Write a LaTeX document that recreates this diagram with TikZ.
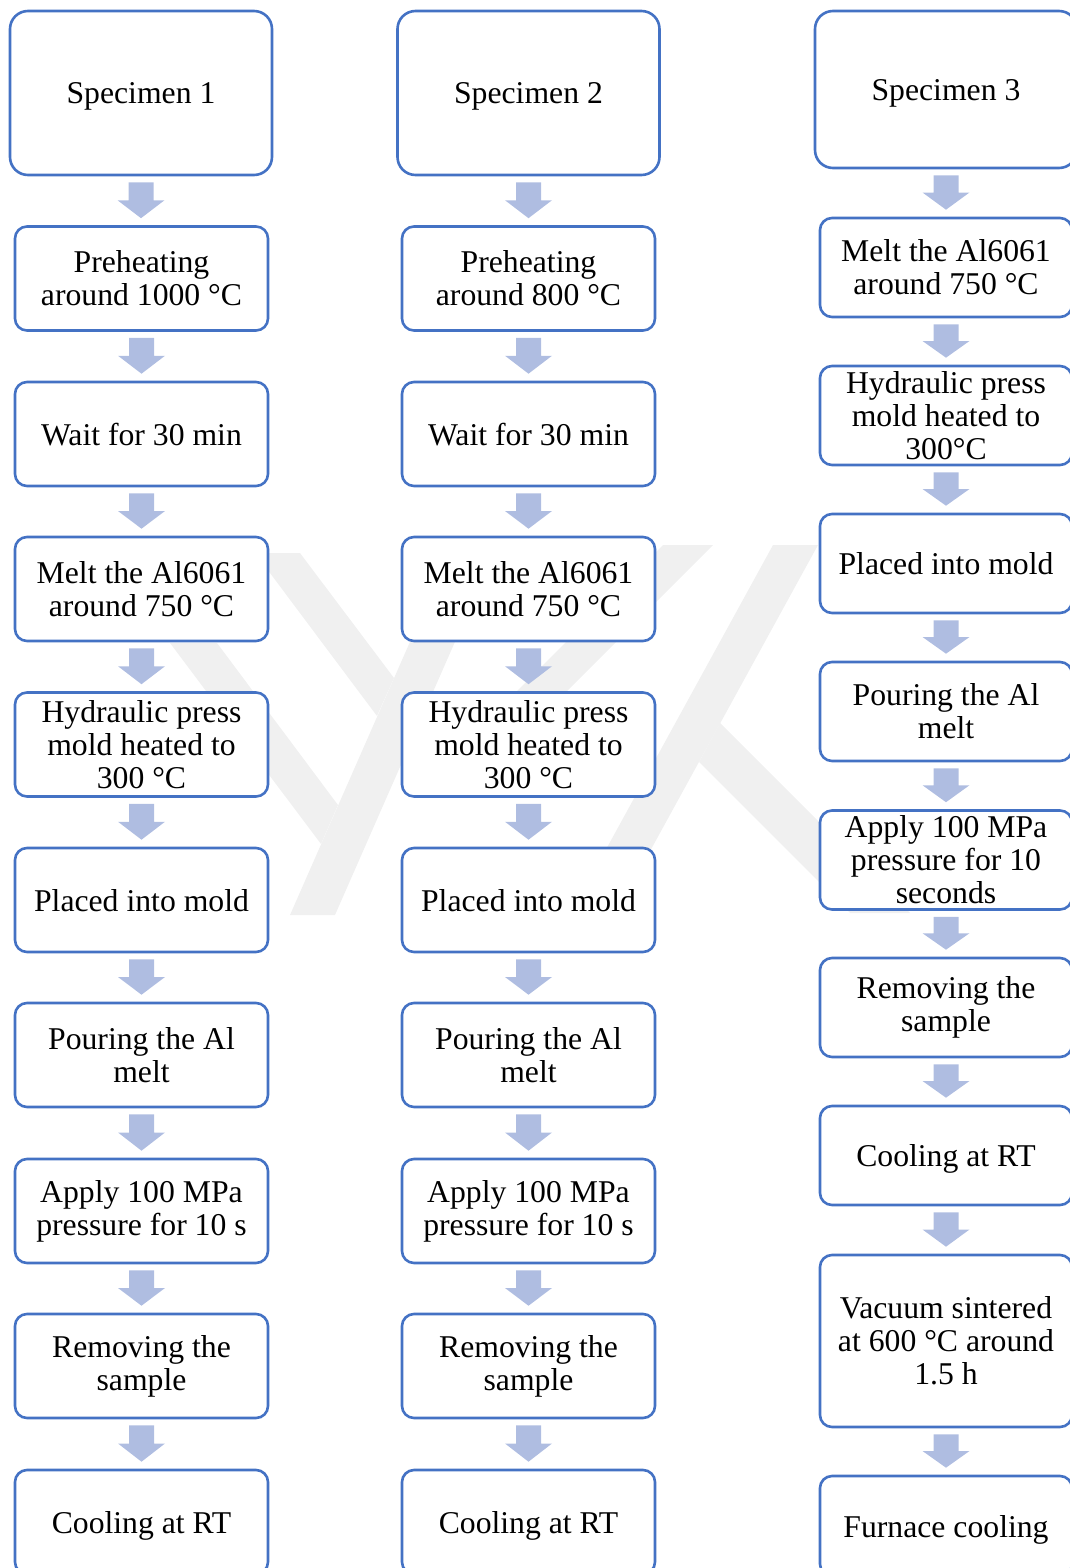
\documentclass[tikz,border=0pt]{standalone}
\usepackage{fontspec}
\setmainfont{Liberation Serif}
\usetikzlibrary{calc}
\definecolor{boxblue}{RGB}{68,114,196}
\definecolor{arrowfill}{RGB}{175,189,225}
\definecolor{wmgray}{RGB}{240,240,240}
\tikzset{
  procbox/.style={draw=boxblue, line width=2.6pt, fill=white, rounded corners=12pt,
    minimum width=253pt, minimum height=104pt, align=center, inner sep=0pt,
    font=\fontsize{31.7}{33}\selectfont},
  oneline/.style={execute at begin node={\rule{0pt}{32pt}},
    execute at end node={\rule[-10pt]{0pt}{10pt}}},
  specbox/.style={procbox, oneline, rounded corners=18pt, minimum width=262pt, minimum height=164pt},
  procthree/.style={procbox, minimum width=252pt, minimum height=99pt},
  wmark/.style={fill=wmgray}
}
\newcommand\flowarrow[2]{%
  \fill[arrowfill] let \p1=(#1.south), \p2=(#2.north) in
    ({\x1-12.5pt},{\y1-6pt}) -- ({\x1+12.5pt},{\y1-6pt}) --
    ({\x1+12.5pt},{(\y1+\y2)/2+0.5pt}) -- ({\x1+23.5pt},{(\y1+\y2)/2+0.5pt}) --
    ({\x1},{\y2+7pt}) --
    ({\x1-23.5pt},{(\y1+\y2)/2+0.5pt}) -- ({\x1-12.5pt},{(\y1+\y2)/2+0.5pt}) -- cycle;}
\begin{document}
\begin{tikzpicture}[x=1pt,y=-1pt]
\useasboundingbox (0,0) rectangle (1070,1568);
\clip (0,0) rectangle (1070,1568);
% watermark
\fill[wmark] (290,915) -- (335,915) -- (494,553) -- (449,553) -- cycle;
\fill[wmark] (255,553) -- (300,553) -- (394,678) -- (377,716) -- cycle;
\fill[wmark] (170,643) -- (217,643) -- (338,805) -- (321,844) -- cycle;
\fill[wmark] (773,545) -- (818,545) -- (615,915) -- (570,915) -- cycle;
\fill[wmark] (663,545) -- (713,545) -- (560,698) -- (510,698) -- cycle;
\fill[wmark] (720,723) -- (910,913) -- (850,913) -- (699,762) -- cycle;

% column 1
\node[specbox] (a0) at (141,93) {Specimen 1};
\node[procbox] (a1) at (141.5,278.5) {Preheating\\around 1000 °C};
\node[procbox, oneline] (a2) at (141.5,434) {Wait for 30 min};
\node[procbox] (a3) at (141.5,589) {Melt the Al6061\\around 750 °C};
\node[procbox] (a4) at (141.5,744.5) {Hydraulic press\\mold heated to\\300 °C};
\node[procbox, oneline] (a5) at (141.5,900) {Placed into mold};
\node[procbox] (a6) at (141.5,1055) {Pouring the Al\\melt};
\node[procbox] (a7) at (141.5,1211) {Apply 100 MPa\\pressure for 10 s};
\node[procbox] (a8) at (141.5,1366) {Removing the\\sample};
\node[procbox, oneline] (a9) at (141.5,1522) {Cooling at RT};

% column 2
\node[specbox] (b0) at (528.5,93) {Specimen 2};
\node[procbox] (b1) at (528.5,278.5) {Preheating\\around 800 °C};
\node[procbox, oneline] (b2) at (528.5,434) {Wait for 30 min};
\node[procbox] (b3) at (528.5,589) {Melt the Al6061\\around 750 °C};
\node[procbox] (b4) at (528.5,744.5) {Hydraulic press\\mold heated to\\300 °C};
\node[procbox, oneline] (b5) at (528.5,900) {Placed into mold};
\node[procbox] (b6) at (528.5,1055) {Pouring the Al\\melt};
\node[procbox] (b7) at (528.5,1211) {Apply 100 MPa\\pressure for 10 s};
\node[procbox] (b8) at (528.5,1366) {Removing the\\sample};
\node[procbox, oneline] (b9) at (528.5,1522) {Cooling at RT};

% column 3
\node[specbox, minimum height=157pt] (c0) at (946,89.5) {Specimen 3};
\node[procthree] (c1) at (946,267.5) {Melt the Al6061\\around 750 °C};
\node[procthree] (c2) at (946,415.5) {Hydraulic press\\mold heated to\\300°C};
\node[procthree, oneline] (c3) at (946,563.5) {Placed into mold};
\node[procthree] (c4) at (946,711.5) {Pouring the Al\\melt};
\node[procthree] (c5) at (946,860) {Apply 100 MPa\\pressure for 10\\seconds};
\node[procthree] (c6) at (946,1007.5) {Removing the\\sample};
\node[procthree, oneline] (c7) at (946,1155.5) {Cooling at RT};
\node[procthree, minimum height=172pt] (c8) at (946,1341) {Vacuum sintered\\at 600 °C around\\1.5 h};
\node[procthree, oneline, minimum height=100pt] (c9) at (946,1526) {Furnace cooling};

% arrows
\flowarrow{a0}{a1}\flowarrow{a1}{a2}\flowarrow{a2}{a3}\flowarrow{a3}{a4}\flowarrow{a4}{a5}
\flowarrow{a5}{a6}\flowarrow{a6}{a7}\flowarrow{a7}{a8}\flowarrow{a8}{a9}
\flowarrow{b0}{b1}\flowarrow{b1}{b2}\flowarrow{b2}{b3}\flowarrow{b3}{b4}\flowarrow{b4}{b5}
\flowarrow{b5}{b6}\flowarrow{b6}{b7}\flowarrow{b7}{b8}\flowarrow{b8}{b9}
\flowarrow{c0}{c1}\flowarrow{c1}{c2}\flowarrow{c2}{c3}\flowarrow{c3}{c4}\flowarrow{c4}{c5}
\flowarrow{c5}{c6}\flowarrow{c6}{c7}\flowarrow{c7}{c8}\flowarrow{c8}{c9}
\end{tikzpicture}
\end{document}
